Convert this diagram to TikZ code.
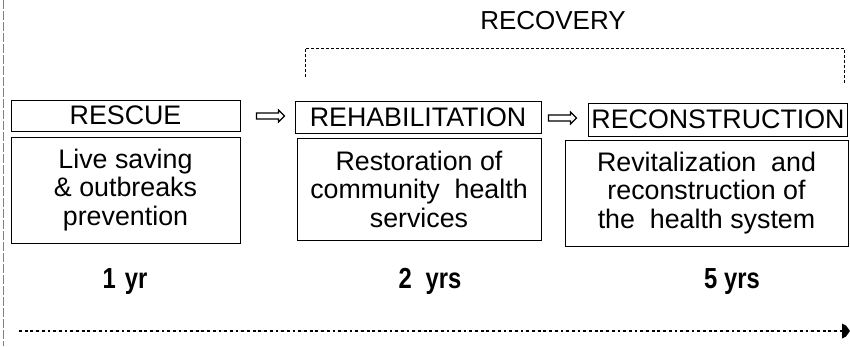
\documentclass[tikz,border=0pt]{standalone}
\usepackage{fontspec}
\setmainfont{Liberation Sans}
\newfontfamily\narrowbold[FakeStretch=0.82]{Liberation Sans}
\usetikzlibrary{shapes.arrows}
\begin{document}
\begin{tikzpicture}[x=1pt,y=-1pt,
  title/.style={draw, line width=1pt, inner sep=0pt, font=\fontsize{26.8}{28}\selectfont},
  descbox/.style={draw, line width=1pt, inner sep=0pt, align=center, font=\fontsize{26.8}{28.5}\selectfont},
  dur/.style={inner sep=0pt, anchor=base, font=\fontsize{29}{30}\narrowbold\bfseries},
  harrow/.style={single arrow, draw, line width=1.2pt, inner sep=2.4pt, minimum height=28pt, single arrow head extend=3pt},
  bracket/.style={line width=1pt, dash pattern=on 3pt off 2pt}
]
\useasboundingbox (0,0) rectangle (850,346);
\draw[gray, line width=0.6pt, dash pattern=on 9pt off 2pt] (3,0) -- (3,346);

% titles
\node[title, minimum width=229pt, minimum height=31pt] (rescue) at (125.5,115.5) {RESCUE};
\node[title, minimum width=246pt, minimum height=32pt] (rehab) at (418,117) {REHABILITATION};
\node[title, minimum width=259pt, minimum height=33pt] (recon) at (718,119.5) {RECONSTRUCTION};

% descriptions
\node[descbox, minimum width=229pt, minimum height=106pt] (d1) at (125.5,190) {Live saving\\\& outbreaks\\prevention};
\node[descbox, minimum width=244pt, minimum height=102pt] (d2) at (419,189) {Restoration of\\community\ \ health\\services};
\node[descbox, minimum width=283pt, minimum height=106pt] (d3) at (706.5,193) {Revitalization\ \ and\\reconstruction of\\the\ \ health system};

% arrows
\node[harrow] (a1) at (269,116) {};
\node[harrow] (a2) at (561,118) {};

% recovery
\node[inner sep=0pt, font=\fontsize{26}{28}\selectfont] (recov) at (553,21) {RECOVERY};
\coordinate (b1) at (305,77);
\coordinate (b2) at (305,48);
\coordinate (b3) at (844,48);
\coordinate (b4) at (844,83);
\draw[bracket] (b1) -- (b2) -- (b3) -- (b4);

% durations
\node[dur] (y1) at (125,288) {1\hspace{9pt}yr};
\node[dur] (y2) at (430,288) {2\hspace{14pt}yrs};
\node[dur] (y5) at (732,288) {5 yrs};

% timeline
\coordinate (t0) at (19,331);
\coordinate (t1) at (842,331);
\draw[line width=2.8pt, dash pattern=on 2.8pt off 2.9pt] (t0) -- (t1);
\fill (842,323.5) -- (846,325.5) -- (850,331) -- (846,336.5) -- (842,338.5) -- cycle;
\end{tikzpicture}
\end{document}
